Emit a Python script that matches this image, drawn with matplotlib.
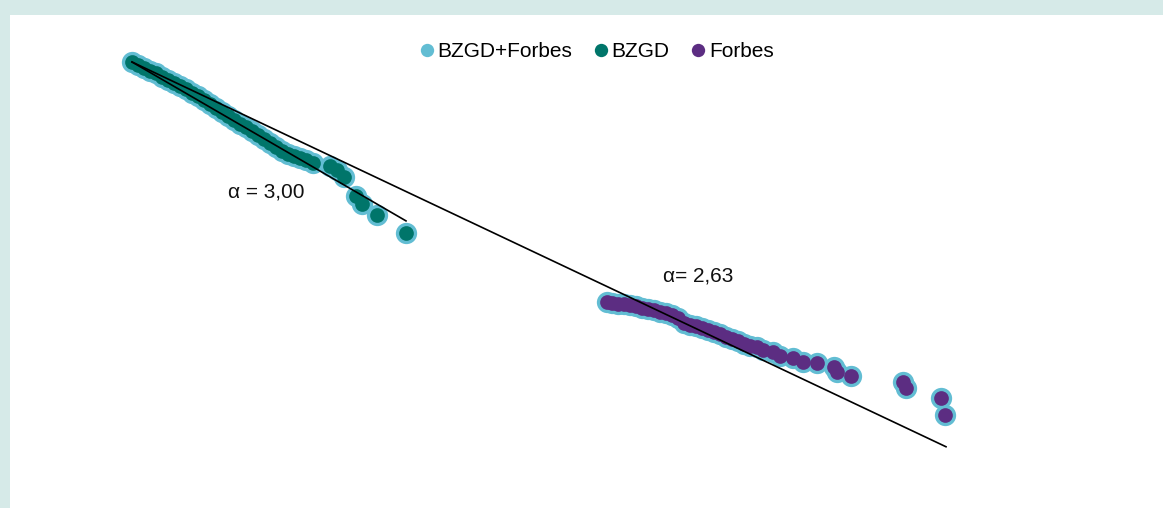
import matplotlib
matplotlib.use("Agg")
import matplotlib.pyplot as plt
from matplotlib.lines import Line2D

plt.rcParams["font.family"] = ["Liberation Sans", "DejaVu Sans"]

# log10 of wealth and log10 of the complementary cumulative share
bzgd_x = [6.000, 6.030, 6.060, 6.090, 6.120, 6.150, 6.180, 6.210, 6.240, 6.270,
          6.300, 6.330, 6.360, 6.390, 6.420, 6.450, 6.480, 6.510, 6.540, 6.570,
          6.600, 6.630, 6.660, 6.690, 6.720, 6.750, 6.780, 6.810, 6.840, 6.870,
          6.905, 6.990, 7.025, 7.060, 7.120, 7.150, 7.225, 7.370]
bzgd_y = [0.000, -0.052, -0.103, -0.155, -0.190, -0.259, -0.310, -0.362, -0.414, -0.466,
          -0.534, -0.586, -0.655, -0.724, -0.793, -0.862, -0.931, -1.000, -1.069, -1.121,
          -1.190, -1.259, -1.328, -1.397, -1.466, -1.534, -1.586, -1.621, -1.655, -1.690,
          -1.741, -1.793, -1.862, -1.983, -2.310, -2.448, -2.638, -2.948]

forbes_x = [8.375, 8.400, 8.430, 8.460, 8.490, 8.520, 8.550, 8.580, 8.610, 8.640,
            8.670, 8.700, 8.730, 8.760, 8.790, 8.820, 8.850, 8.880, 8.910, 8.940,
            8.970, 9.000, 9.030, 9.060, 9.090, 9.125, 9.155, 9.205, 9.240, 9.305,
            9.355, 9.425, 9.510, 9.525, 9.595, 9.855, 9.870, 10.045, 10.065]
forbes_y = [-4.138, -4.155, -4.172, -4.172, -4.190, -4.207, -4.241, -4.259, -4.276, -4.310,
            -4.328, -4.362, -4.414, -4.500, -4.534, -4.552, -4.586, -4.621, -4.655, -4.690,
            -4.741, -4.776, -4.810, -4.862, -4.897, -4.914, -4.966, -5.000, -5.069, -5.103,
            -5.172, -5.190, -5.259, -5.345, -5.414, -5.517, -5.621, -5.793, -6.086]

# power-law fits: slope of the CCDF is -(alpha - 1)
alpha_bzgd = 3.00
alpha_all = 2.63
fit_x0, fit_y0 = 6.0, 0.0
fit_bzgd_end = 7.37
fit_all_end = 10.07

series_names = ["BZGD+Forbes", "BZGD", "Forbes"]
c_all = "#62bdd3"
c_bzgd = "#00756a"
c_forbes = "#5c2d82"

fig = plt.figure(figsize=(11.63, 5.08), dpi=100, facecolor="#d6eae8")
ax = fig.add_axes([10 / 1163, 0, 1153 / 1163, 493 / 508])
ax.set_facecolor("white")
for sp in ax.spines.values():
    sp.set_visible(False)
ax.set_xticks([])
ax.set_yticks([])
ax.set_xlim(5.39, 11.155)
ax.set_ylim(-7.69, 0.81)

ax.scatter(bzgd_x + forbes_x, bzgd_y + forbes_y, s=235, color=c_all,
           linewidths=0, zorder=2)
ax.scatter(bzgd_x, bzgd_y, s=112, color=c_bzgd, linewidths=0, zorder=3)
ax.scatter(forbes_x, forbes_y, s=112, color=c_forbes, linewidths=0, zorder=3)

for a, xe in [(alpha_bzgd, fit_bzgd_end), (alpha_all, fit_all_end)]:
    xs = [fit_x0, xe]
    ys = [fit_y0 - (a - 1) * (x - fit_x0) for x in xs]
    ax.plot(xs, ys, color="black", linewidth=1.2, zorder=4)

ax.text(6.48, -2.345, "α = " + f"{alpha_bzgd:.2f}".replace(".", ","),
        fontsize=15, ha="left", va="baseline", color="#111111")
ax.text(8.655, -3.788, "α= " + f"{alpha_all:.2f}".replace(".", ","),
        fontsize=15, ha="left", va="baseline", color="#111111")

handles = [Line2D([], [], linestyle="none", marker="o", markersize=9.6,
                  markerfacecolor=c, markeredgewidth=0)
           for c in (c_all, c_bzgd, c_forbes)]
fig.legend(handles, series_names, loc="center", bbox_to_anchor=(0.5133, 0.899),
           ncol=3, frameon=False, fontsize=15, handlelength=0.65,
           handletextpad=0.18, columnspacing=1.05, borderpad=0)

fig.savefig("out.png", dpi=100, facecolor=fig.get_facecolor())
